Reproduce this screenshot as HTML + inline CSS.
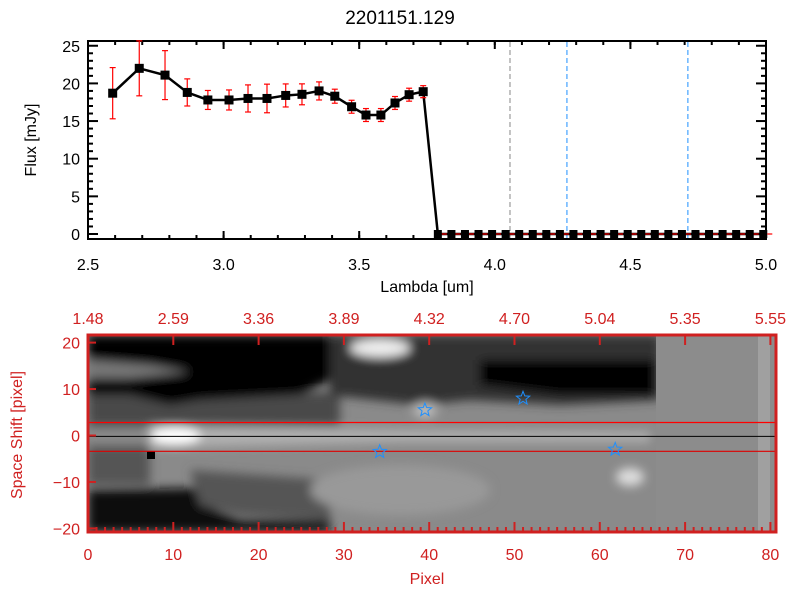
<!DOCTYPE html>
<html><head><meta charset="utf-8"><style>
html,body{margin:0;padding:0;background:#fff;}
svg{display:block;font-family:"Liberation Sans",sans-serif;}
</style></head><body>
<svg id="c" width="800" height="600" viewBox="0 0 800 600" xmlns="http://www.w3.org/2000/svg">
<defs>
<filter id="bl" x="-20%" y="-20%" width="140%" height="140%"><feGaussianBlur stdDeviation="5"/></filter>
<clipPath id="imgclip"><rect x="88" y="335" width="688" height="197"/></clipPath>
</defs>
<text x="400" y="24" font-size="19" text-anchor="middle">2201151.129</text>
<g id="topg"></g>
<g id="botg"></g>
</svg>
<script>
const lambda=[2.591,2.689,2.784,2.866,2.942,3.02,3.09,3.16,3.229,3.289,3.352,3.41,3.472,3.525,3.58,3.632,3.684,3.736];
const flux=[18.7,22.0,21.1,18.8,17.8,17.8,18.0,18.0,18.4,18.55,19.0,18.3,16.9,15.8,15.8,17.4,18.5,18.9];
const ferr=[3.4,3.65,3.25,1.8,1.26,1.33,1.8,1.9,1.53,1.39,1.2,0.93,0.86,0.86,0.86,0.86,0.86,0.8];
const zeroLambda=[3.79,3.84,3.89,3.94,3.99,4.04,4.09,4.14,4.19,4.24,4.29,4.34,4.39,4.44,4.49,4.54,4.59,4.64,4.69,4.74,4.79,4.84,4.89,4.94,4.99];
const vlines=[4.056,4.266,4.712];
const vcolors=['#888','#1e90ff','#1e90ff'];
const xTicks=['2.5','3.0','3.5','4.0','4.5','5.0'];
const yTicks=[0,5,10,15,20,25];
const pixTicks=[0,10,20,30,40,50,60,70,80];
const waveTicks=['1.48','2.59','3.36','3.89','4.32','4.70','5.04','5.35','5.55'];
const shiftTicks=[-20,-10,0,10,20];
const stars=[[34.2,-3.5],[39.5,5.5],[51,8],[61.8,-3]];

const NS='http://www.w3.org/2000/svg';
function mk(p,t,a,txt){const e=document.createElementNS(NS,t);for(const k in a)e.setAttribute(k,a[k]);if(txt!=null)e.textContent=txt;p.appendChild(e);return e;}
const X=l=>88+(l-2.5)*271.2;
const Y=f=>234-f*7.53;
const tg=document.getElementById('topg');
let e=mk(tg,'rect',{x:88,y:41,width:678,height:198,fill:'none',stroke:'#000','stroke-width':2});


xTicks.forEach(t=>{const v=parseFloat(t),x=X(v);
 mk(tg,'line',{x1:x,y1:239,x2:x,y2:231,stroke:'#000','stroke-width':2});
 mk(tg,'line',{x1:x,y1:41,x2:x,y2:49,stroke:'#000','stroke-width':2});
 const tx=mk(tg,'text',{x:x,y:270,'font-size':16,'text-anchor':'middle'},t);
 
 
});
for(let v=2.6;v<5;v+=0.1){const x=X(v);mk(tg,'line',{x1:x,y1:239,x2:x,y2:235,stroke:'#000','stroke-width':2});mk(tg,'line',{x1:x,y1:41,x2:x,y2:45,stroke:'#000','stroke-width':2});}
yTicks.forEach(t=>{const y=Y(t);
 mk(tg,'line',{x1:88,y1:y,x2:98,y2:y,stroke:'#000','stroke-width':2});
 mk(tg,'line',{x1:766,y1:y,x2:756,y2:y,stroke:'#000','stroke-width':2});
 const tx=mk(tg,'text',{x:80,y:y+6,'font-size':16,'text-anchor':'end'},t);
 
 
});
for(let v=1;v<26;v++){if(v%5){const y=Y(v);mk(tg,'line',{x1:88,y1:y,x2:93,y2:y,stroke:'#000','stroke-width':2});mk(tg,'line',{x1:766,y1:y,x2:761,y2:y,stroke:'#000','stroke-width':2});}}
e=mk(tg,'text',{x:427,y:292,'font-size':16,'text-anchor':'middle'},'Lambda [um]');


e=mk(tg,'text',{x:0,y:0,'font-size':16,'text-anchor':'middle',transform:'translate(36,140) rotate(-90)'},'Flux [mJy]');


vlines.forEach((v,i)=>{const l=mk(tg,'line',{x1:X(v),y1:42,x2:X(v),y2:238,stroke:vcolors[i],'stroke-width':1,'stroke-dasharray':'5,3'});
 
 });
const all=lambda.map((l,i)=>[X(l),Y(flux[i])]).concat(zeroLambda.map(l=>[X(l),Y(0)]));
e=mk(tg,'polyline',{points:all.map(p=>p.join(',')).join(' '),fill:'none',stroke:'#000','stroke-width':2.5});


lambda.forEach((l,i)=>{const x=X(l),y1=Y(flux[i]+ferr[i]),y2=Y(flux[i]-ferr[i]);
 const g=mk(tg,'g',{stroke:'#f00','stroke-width':1.2});
 
 
 mk(g,'line',{x1:x,y1:y1,x2:x,y2:y2});mk(g,'line',{x1:x-3,y1:y1,x2:x+3,y2:y1});mk(g,'line',{x1:x-3,y1:y2,x2:x+3,y2:y2});
});
lambda.forEach((l,i)=>{const r=mk(tg,'rect',{x:X(l)-4.5,y:Y(flux[i])-4.5,width:9,height:9,fill:'#000'});
 
 });
zeroLambda.forEach(l=>{const r=mk(tg,'rect',{x:X(l)-4,y:Y(0)-4,width:8,height:8,fill:'#000'});
 
 
 mk(tg,'line',{x1:X(l)+4,y1:Y(0),x2:X(l)+9,y2:Y(0),stroke:'#f00','stroke-width':1.2});});

const bg=document.getElementById('botg');
const PX=p=>88+p*8.53;
const SY=s=>435.5-s*4.645;
const img=mk(bg,'g',{'clip-path':'url(#imgclip)'});


mk(img,'rect',{x:88,y:335,width:688,height:197,fill:'#8a8a8a'});
const gb=mk(img,'g',{filter:'url(#bl)'});
mk(gb,'polygon',{points:'88,395 340,392 340,426 88,426',fill:'#4a4a4a'});
mk(gb,'polygon',{points:'88,446 150,446 150,485 88,485',fill:'#555'});
mk(gb,'polygon',{points:'88,335 345,335 345,360 330,380 300,395 200,400 170,405 130,395 88,395',fill:'#000'});
mk(gb,'polygon',{points:'330,335 660,335 660,400 560,405 470,400 420,405 330,395',fill:'#333'});
mk(gb,'polygon',{points:'480,360 655,360 655,395 560,395 480,385',fill:'#000'});
mk(gb,'polygon',{points:'88,490 200,488 215,510 240,520 330,520 330,532 88,532',fill:'#080808'});
mk(gb,'polygon',{points:'190,470 330,480 330,520 240,515 200,505',fill:'#555'});
mk(gb,'polygon',{points:'88,360 150,365 190,372 130,378 88,378',fill:'#777'});
mk(gb,'polygon',{points:'150,425 400,430 650,432 650,442 400,442 150,448',fill:'#b0b0b0'});
mk(gb,'ellipse',{cx:175,cy:436,rx:25,ry:9,fill:'#fff'});
mk(gb,'ellipse',{cx:380,cy:348,rx:30,ry:9,fill:'#eee'});
mk(gb,'ellipse',{cx:630,cy:477,rx:14,ry:9,fill:'#ddd'});
mk(gb,'ellipse',{cx:425,cy:410,rx:12,ry:8,fill:'#bbb'});
mk(gb,'ellipse',{cx:400,cy:490,rx:90,ry:25,fill:'#999'});
mk(img,'rect',{x:656,y:335,width:120,height:197,fill:'#8c8c8c'});
mk(img,'rect',{x:758,y:335,width:12,height:197,fill:'#a0a0a0'});
mk(img,'rect',{x:147,y:451,width:8,height:8,fill:'#000'});
e=mk(bg,'line',{x1:88,y1:SY(2.8),x2:776,y2:SY(2.8),stroke:'#f00','stroke-width':1.2});


e=mk(bg,'line',{x1:88,y1:SY(-3.4),x2:776,y2:SY(-3.4),stroke:'#d00','stroke-width':1.2});


e=mk(bg,'line',{x1:88,y1:SY(-0.2),x2:776,y2:SY(-0.2),stroke:'#000','stroke-width':1});


stars.forEach(s=>{const cx=PX(s[0]),cy=SY(s[1]),R=7,r=3;let pts=[];
 for(let k=0;k<10;k++){const a=-Math.PI/2+k*Math.PI/5,rr=k%2?r:R;pts.push((cx+rr*Math.cos(a)).toFixed(1)+','+(cy+rr*Math.sin(a)).toFixed(1));}
 const p=mk(bg,'polygon',{points:pts.join(' '),fill:'none',stroke:'#1e90ff','stroke-width':1});
 
 });
const red='#d02020';
e=mk(bg,'rect',{x:88,y:335,width:688,height:197,fill:'none',stroke:red,'stroke-width':3});


pixTicks.forEach((p,i)=>{const x=PX(p);
 mk(bg,'line',{x1:x,y1:532,x2:x,y2:522,stroke:red,'stroke-width':2});
 mk(bg,'line',{x1:x,y1:335,x2:x,y2:345,stroke:red,'stroke-width':2});
 let t=mk(bg,'text',{x:x,y:560,'font-size':16,fill:red,'text-anchor':'middle'},p);
 
 
 t=mk(bg,'text',{x:x,y:324,'font-size':16,fill:red,'text-anchor':'middle'},waveTicks[i]);
 
 });
for(let p=1;p<81;p++){if(p%10){const x=PX(p);mk(bg,'line',{x1:x,y1:532,x2:x,y2:527,stroke:red,'stroke-width':2});}}
shiftTicks.forEach(s=>{const y=SY(s);
 mk(bg,'line',{x1:88,y1:y,x2:96,y2:y,stroke:red,'stroke-width':2});
 const t=mk(bg,'text',{x:80,y:y+6,'font-size':16,fill:red,'text-anchor':'end'},s===0?'0':(s<0?'\u2212'+(-s):s));
 
 });
e=mk(bg,'text',{x:427,y:584,'font-size':16,fill:red,'text-anchor':'middle'},'Pixel');


e=mk(bg,'text',{x:0,y:0,'font-size':16,fill:red,'text-anchor':'middle',transform:'translate(22,435) rotate(-90)'},'Space Shift [pixel]');


</script>
</body></html>
